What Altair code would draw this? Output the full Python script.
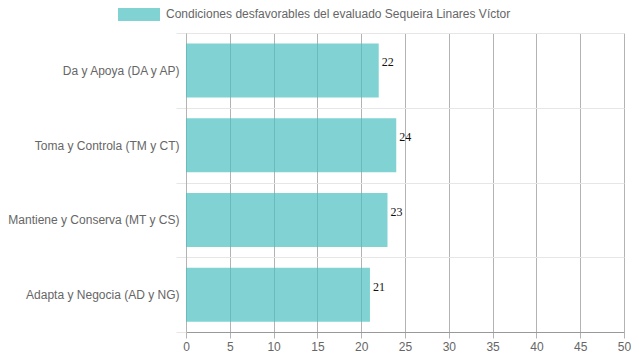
import altair as alt
import pandas as pd

categories = [
    "Da y Apoya (DA y AP)",
    "Toma y Controla (TM y CT)",
    "Mantiene y Conserva (MT y CS)",
    "Adapta y Negocia (AD y NG)",
]
values = [22, 24, 23, 21]
series_name = "Condiciones desfavorables del evaluado Sequeira Linares Víctor"
x_ticks = list(range(0, 55, 5))

df = pd.DataFrame({"cat": categories, "val": values, "serie": [series_name] * len(values)})

FONT = "Liberation Sans"
LBL = "#666666"

y_enc = alt.Y(
    "cat:N",
    sort=categories,
    title=None,
    scale=alt.Scale(paddingInner=0, paddingOuter=0),
    axis=alt.Axis(
        bandPosition=0,
        grid=True,
        gridColor="#e6e6e6",
        gridWidth=1,
        ticks=True,
        tickColor="#e6e6e6",
        tickSize=10,
        tickBand="extent",
        domain=True,
        domainColor="#b3b3b3",
        labelColor=LBL,
        labelFont=FONT,
        labelFontSize=12,
        labelPadding=-3,
        labelLimit=300,
    ),
)

bars = alt.Chart(df).mark_bar(size=54, opacity=0.7).encode(
    x=alt.X(
        "val:Q",
        title=None,
        scale=alt.Scale(domain=[0, 50], nice=False),
        axis=alt.Axis(
            values=x_ticks,
            grid=True,
            gridColor="#b3b3b3",
            gridWidth=1,
            tickColor="#b3b3b3",
            tickSize=6,
            domainColor="#999999",
            labelColor=LBL,
            labelFont=FONT,
            labelFontSize=12,
            labelPadding=3,
            labelFlush=False,
        ),
    ),
    y=y_enc,
    color=alt.Color(
        "serie:N",
        scale=alt.Scale(range=["#4bc0c0"]),
        legend=alt.Legend(
            title=None,
            orient="none",
            legendX=-68,
            legendY=-40,
            symbolType="M-1,-0.3333L1,-0.3333L1,0.3333L-1,0.3333Z",
            symbolSize=1764,
            symbolStrokeWidth=0,
            symbolOpacity=0.7,
            labelColor=LBL,
            labelFont=FONT,
            labelFontSize=12,
            labelLimit=600,
            labelOffset=6,
            padding=0,
        ),
    ),
)

labels = alt.Chart(df).mark_text(
    align="left", baseline="middle", dx=3, dy=-8, font="Liberation Serif", fontSize=12, color="#111111"
).encode(
    x="val:Q",
    y=alt.Y("cat:N", sort=categories),
    text="val:Q",
)

chart = (
    alt.layer(bars, labels)
    .properties(
        width=438,
        height=299,
        autosize=alt.AutoSizeParams(type="none"),
        padding={"left": 178, "top": 25, "right": 7, "bottom": 20},
    )
    .configure_view(stroke=None)
)

chart.save("out.html", embed_options={"renderer": "svg", "actions": False})
